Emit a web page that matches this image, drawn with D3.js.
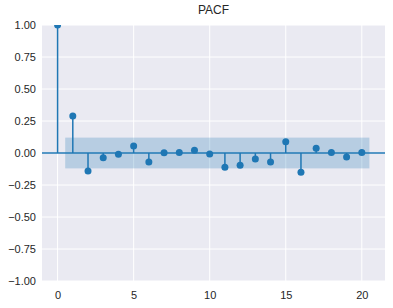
<!DOCTYPE html>
<html>
<head>
<meta charset="utf-8">
<script src="https://cdn.jsdelivr.net/npm/d3@7"></script>
<style>
  body { margin: 0; background: #fff; }
  text { font-family: "Liberation Sans", Arial, sans-serif; }
</style>
</head>
<body>
<div id="chart"></div>
<script>
// PACF values per lag
const lags = d3.range(0, 21);
const pacf = [1.0, 0.289, -0.14, -0.037, -0.01, 0.055, -0.07, 0.001, 0.003, 0.021, -0.008,
  -0.112, -0.096, -0.047, -0.07, 0.088, -0.151, 0.037, 0.003, -0.031, 0.003];
const confLevel = 0.12;
const yTicks = [-1, -0.75, -0.5, -0.25, 0, 0.25, 0.5, 0.75, 1];
const xTicks = [0, 5, 10, 15, 20];

const width = 393;
const height = 308;
const margin = { top: 25, right: 8, bottom: 27, left: 42 };
const blue = '#1f77b4';

const svg = d3.select('#chart')
  .append('svg')
  .attr('width', width)
  .attr('height', height);

const xScale = d3.scaleLinear()
  .domain([-1.025, 21.525])
  .range([margin.left, width - margin.right]);

const yScale = d3.scaleLinear()
  .domain([-1, 1])
  .range([height - margin.bottom, margin.top]);

// background
svg.append('rect')
  .attr('x', margin.left)
  .attr('y', margin.top)
  .attr('width', width - margin.right - margin.left)
  .attr('height', height - margin.bottom - margin.top)
  .attr('fill', '#eaeaf2');

svg.append('clipPath').attr('id', 'clip')
  .append('rect')
  .attr('x', margin.left)
  .attr('y', margin.top)
  .attr('width', width - margin.right - margin.left)
  .attr('height', height - margin.bottom - margin.top);

// grid
svg.selectAll('.ygrid')
  .data(yTicks)
  .enter()
  .append('line')
  .attr('x1', margin.left)
  .attr('x2', width - margin.right)
  .attr('y1', d => yScale(d))
  .attr('y2', d => yScale(d))
  .attr('stroke', '#fff')
  .attr('stroke-width', 1);

svg.selectAll('.xgrid')
  .data(xTicks)
  .enter()
  .append('line')
  .attr('x1', d => xScale(d))
  .attr('x2', d => xScale(d))
  .attr('y1', margin.top)
  .attr('y2', height - margin.bottom)
  .attr('stroke', '#fff')
  .attr('stroke-width', 1);

const plot = svg.append('g').attr('clip-path', 'url(#clip)');

// confidence band
plot.append('rect')
  .attr('x', xScale(0.5))
  .attr('y', yScale(confLevel))
  .attr('width', xScale(20.5) - xScale(0.5))
  .attr('height', yScale(-confLevel) - yScale(confLevel))
  .attr('fill', blue)
  .attr('fill-opacity', 0.25);

// zero line
plot.append('line')
  .attr('x1', margin.left)
  .attr('x2', width - margin.right)
  .attr('y1', yScale(0))
  .attr('y2', yScale(0))
  .attr('stroke', blue)
  .attr('stroke-width', 1.5);

// stems
plot.selectAll('.stem')
  .data(lags)
  .enter()
  .append('line')
  .attr('x1', d => xScale(d))
  .attr('x2', d => xScale(d))
  .attr('y1', yScale(0))
  .attr('y2', d => yScale(pacf[d]))
  .attr('stroke', blue)
  .attr('stroke-width', 1.5);

plot.selectAll('.dot')
  .data(lags)
  .enter()
  .append('circle')
  .attr('cx', d => xScale(d))
  .attr('cy', d => yScale(pacf[d]))
  .attr('r', 3.5)
  .attr('fill', blue);

// axes (no tick marks, seaborn style)
svg.append('g')
  .attr('transform', `translate(0, ${height - margin.bottom})`)
  .call(d3.axisBottom(xScale).tickValues(xTicks).tickSize(0).tickPadding(10).tickFormat(d3.format('d')))
  .call(g => g.select('.domain').remove())
  .call(g => g.selectAll('text').attr('font-size', 11).attr('fill', '#262626').attr('font-family', '"Liberation Sans", Arial, sans-serif'));

svg.append('g')
  .attr('transform', `translate(${margin.left}, 0)`)
  .call(d3.axisLeft(yScale).tickValues(yTicks).tickSize(0).tickPadding(6)
    .tickFormat(d => d3.format('.2f')(d).replace('-', '\u2212')))
  .call(g => g.select('.domain').remove())
  .call(g => g.selectAll('text').attr('font-size', 11).attr('fill', '#262626').attr('font-family', '"Liberation Sans", Arial, sans-serif'));

svg.append('text')
  .attr('x', (margin.left + width - margin.right) / 2)
  .attr('y', 14)
  .attr('text-anchor', 'middle')
  .attr('font-size', 12)
  .attr('fill', '#262626')
  .text('PACF');
</script>
</body>
</html>
